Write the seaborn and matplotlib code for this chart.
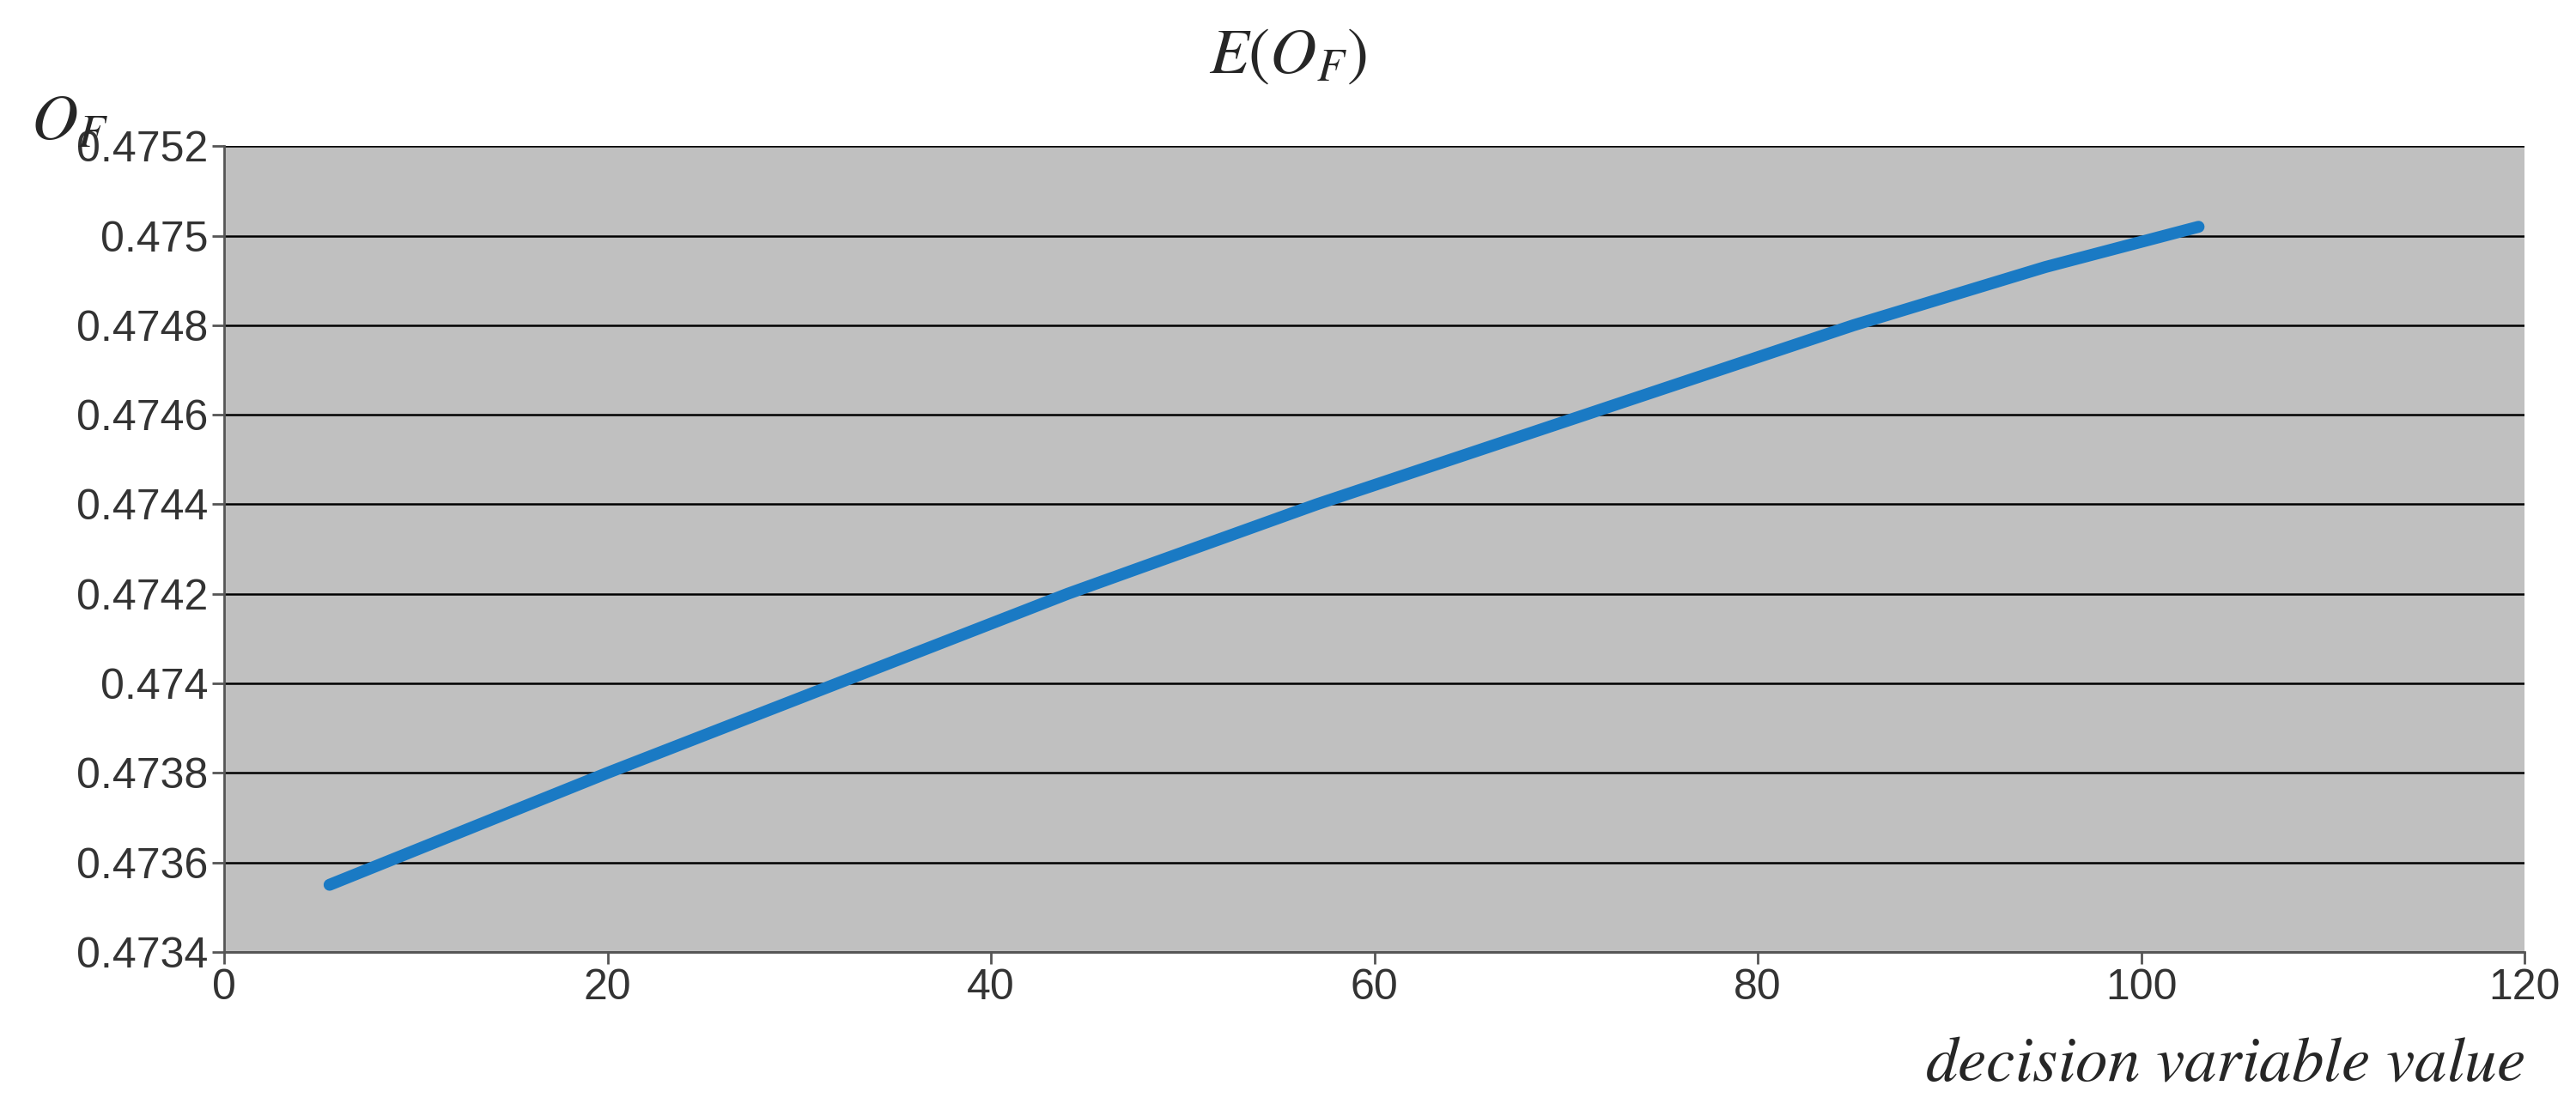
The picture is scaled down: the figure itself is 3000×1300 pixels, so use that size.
import matplotlib
matplotlib.use("Agg")
import matplotlib.pyplot as plt
import seaborn as sns
import pandas as pd
from matplotlib.ticker import FuncFormatter

x_vals = [5.5, 20, 32, 44, 57, 71, 85, 95, 103]
y_vals = [0.47355, 0.47380, 0.47400, 0.47420, 0.47440, 0.47460, 0.47480, 0.47493, 0.47502]
df = pd.DataFrame({"x": x_vals, "y": y_vals})

sns.set_theme(style="white")
plt.rcParams["font.family"] = ["Liberation Sans", "DejaVu Sans"]
plt.rcParams["mathtext.fontset"] = "stix"

fig = plt.figure(figsize=(30, 13), dpi=100)
ax = fig.add_axes([0.087, 0.147, 0.893, 0.722])
ax.set_facecolor("#c0c0c0")
sns.lineplot(data=df, x="x", y="y", ax=ax, color="#1a7ac4", linewidth=10, solid_capstyle="round")
ax.set_xlim(0, 120)
ax.set_ylim(0.4734, 0.4752)
ax.set_xticks(range(0, 121, 20))
ax.set_yticks([0.4734 + 0.0002 * i for i in range(10)])
ax.yaxis.set_major_formatter(FuncFormatter(lambda v, p: f"{round(v, 4):g}"))
ax.grid(axis="y", color="black", linewidth=1.8)
ax.set_axisbelow(True)
for s in ["left", "bottom"]:
    ax.spines[s].set_color("#555555"); ax.spines[s].set_linewidth(2)
ax.spines["top"].set_visible(False); ax.spines["right"].set_visible(False)
ax.tick_params(axis="both", labelsize=36, length=10, width=2, color="#555555", direction="out",
               left=True, bottom=True, colors="#333333", labelcolor="#333333")
ax.set_xlabel(""); ax.set_ylabel("")
fig.text(0.5, 0.935, r"$E(O_F)$", ha="center", fontsize=54)
fig.text(0.012, 0.875, r"$O_F$", ha="left", fontsize=54)
fig.text(0.98, 0.02, r"$decision\ variable\ value$", ha="right", va="bottom", fontsize=54)
fig.savefig("out.png", dpi=100)
